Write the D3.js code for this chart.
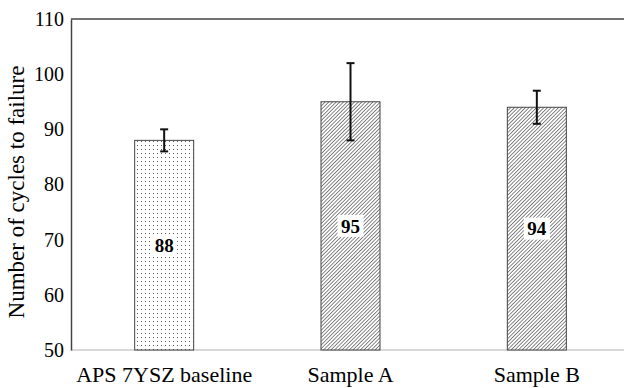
<!DOCTYPE html>
<html>
<head>
    <script src="https://d3js.org/d3.v7.min.js"></script>
    <style>
        body { margin: 0; background: #fff; }
    </style>
</head>
<body>
    <script type="text/javascript">

        // chart data
        var categories = ["APS 7YSZ baseline", "Sample A", "Sample B"];
        var cycles = [88, 95, 94];
        var errLow = [86, 88, 91];
        var errHigh = [90, 102, 97];
        var fills = ["dots", "hatch", "hatch"];
        var yTicks = [50, 60, 70, 80, 90, 100, 110];

        var width = 624, height = 388;
        var plotLeft = 71, plotTop = 19, plotBottom = 350, plotRight = 630;
        var serif = "Liberation Serif";

        var svg = d3.select("body").append("svg")
            .attr("width", width)
            .attr("height", height);

        // fill patterns
        var defs = svg.append("defs");
        var dots = defs.append("pattern")
            .attr("id", "dots")
            .attr("patternUnits", "userSpaceOnUse")
            .attr("width", 4).attr("height", 4);
        dots.append("rect").attr("width", 4).attr("height", 4).attr("fill", "#fff");
        dots.append("rect").attr("x", 1).attr("y", 1).attr("width", 1).attr("height", 1).attr("fill", "#555");

        var hatch = defs.append("pattern")
            .attr("id", "hatch")
            .attr("patternUnits", "userSpaceOnUse")
            .attr("width", 2.6).attr("height", 2.6)
            .attr("patternTransform", "rotate(45)");
        hatch.append("rect").attr("width", 2.6).attr("height", 2.6).attr("fill", "#fff");
        hatch.append("line")
            .attr("x1", 0).attr("y1", 0).attr("x2", 0).attr("y2", 2.6)
            .attr("stroke", "#444").attr("stroke-width", 1.3);

        var x = d3.scalePoint()
            .domain(categories)
            .range([plotLeft, plotRight])
            .padding(0.5);

        var y = d3.scaleLinear()
            .domain([50, 110])
            .range([plotBottom, plotTop]);

        var barW = 59;

        // x axis line (light)
        svg.append("line")
            .attr("x1", plotLeft).attr("x2", width)
            .attr("y1", y(50)).attr("y2", y(50))
            .attr("stroke", "#ccc").attr("stroke-width", 1.5);

        // bars
        svg.selectAll(".bar")
            .data(cycles)
            .enter().append("rect")
            .attr("class", "bar")
            .attr("x", function (d, i) { return x(categories[i]) - barW / 2; })
            .attr("y", function (d) { return y(d); })
            .attr("width", barW)
            .attr("height", function (d) { return y(50) - y(d); })
            .attr("fill", function (d, i) { return "url(#" + fills[i] + ")"; })
            .attr("stroke", "#444")
            .attr("stroke-width", 1);

        // left axis and top frame
        var yAxis = d3.axisLeft(y).tickValues(yTicks).tickSize(0).tickPadding(7);
        var gy = svg.append("g")
            .attr("transform", "translate(" + plotLeft + ",0)")
            .call(yAxis);
        gy.select(".domain").attr("stroke", "#444").attr("stroke-width", 1.5);
        gy.selectAll("text")
            .style("font-family", serif)
            .style("font-size", "20px")
            .attr("fill", "#000");

        svg.append("line")
            .attr("x1", plotLeft).attr("x2", width)
            .attr("y1", y(110)).attr("y2", y(110))
            .attr("stroke", "#444").attr("stroke-width", 1.5);

        // error bars
        var eb = svg.selectAll(".err")
            .data(cycles)
            .enter().append("g")
            .attr("class", "err");
        eb.append("line")
            .attr("x1", function (d, i) { return x(categories[i]); })
            .attr("x2", function (d, i) { return x(categories[i]); })
            .attr("y1", function (d, i) { return y(errLow[i]); })
            .attr("y2", function (d, i) { return y(errHigh[i]); })
            .attr("stroke", "#111").attr("stroke-width", 2);
        eb.append("line")
            .attr("x1", function (d, i) { return x(categories[i]) - 4; })
            .attr("x2", function (d, i) { return x(categories[i]) + 4; })
            .attr("y1", function (d, i) { return y(errHigh[i]); })
            .attr("y2", function (d, i) { return y(errHigh[i]); })
            .attr("stroke", "#111").attr("stroke-width", 2);
        eb.append("line")
            .attr("x1", function (d, i) { return x(categories[i]) - 4; })
            .attr("x2", function (d, i) { return x(categories[i]) + 4; })
            .attr("y1", function (d, i) { return y(errLow[i]); })
            .attr("y2", function (d, i) { return y(errLow[i]); })
            .attr("stroke", "#111").attr("stroke-width", 2);

        // value labels with white box, at middle of bar
        var lab = svg.selectAll(".lab")
            .data(cycles)
            .enter().append("g")
            .attr("class", "lab")
            .attr("transform", function (d, i) {
                return "translate(" + x(categories[i]) + "," + (y(d) + y(50)) / 2 + ")";
            });
        lab.append("rect")
            .attr("x", -13).attr("y", -11)
            .attr("width", 26).attr("height", 22)
            .attr("fill", "#fff");
        lab.append("text")
            .attr("text-anchor", "middle")
            .attr("dy", "0.35em")
            .style("font-family", serif)
            .style("font-size", "19px")
            .style("font-weight", "bold")
            .text(function (d) { return d; });

        // category labels
        svg.selectAll(".cat")
            .data(categories)
            .enter().append("text")
            .attr("class", "cat")
            .attr("x", function (d) { return x(d); })
            .attr("y", 382)
            .attr("text-anchor", "middle")
            .style("font-family", serif)
            .style("font-size", "22px")
            .text(function (d) { return d; });

        // y axis title
        svg.append("text")
            .attr("transform", "translate(24,192) rotate(-90)")
            .attr("text-anchor", "middle")
            .style("font-family", serif)
            .style("font-size", "23px")
            .text("Number of cycles to failure");

    </script>
</body>
</html>
